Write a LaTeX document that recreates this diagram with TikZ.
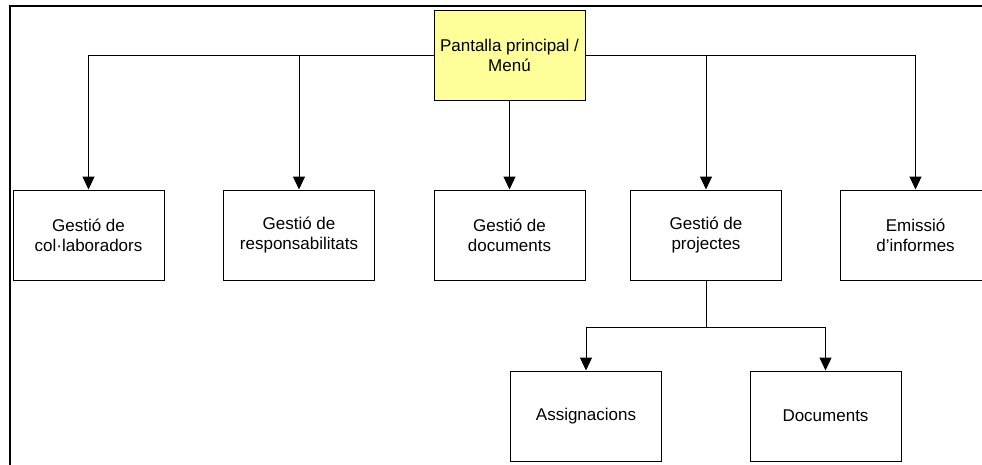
\documentclass[tikz,border=0pt]{standalone}
\usepackage{fontspec}
\setmainfont{Liberation Sans}
\usetikzlibrary{arrows.meta}
\definecolor{menuyellow}{HTML}{FFFF99}
\tikzset{
  box/.style={draw=black, line width=1pt, minimum width=151pt, minimum height=90pt,
    align=center, font=\fontsize{17pt}{20pt}\selectfont, inner sep=0pt, fill=white},
  menubox/.style={box, fill=menuyellow},
  link/.style={line width=1pt, -{Triangle[width=12pt,length=13pt]}},
  plain/.style={line width=1pt},
  frame/.style={line width=2pt, line cap=rect}
}
\begin{document}
\begin{tikzpicture}[x=1pt, y=-1pt]
  \useasboundingbox (0,0) rectangle (982,464);
  \clip (0,0) rectangle (982,464);
  % page frame
  \draw[frame] (10,470) -- (10,6) -- (990,6);
  % main menu
  \node[menubox] (menu) at (509.5,55) {Pantalla principal /\\Menú};
  % first level
  \node[box] (colab) at (88.5,235) {Gestió de\\col·laboradors};
  \node[box] (resp)  at (299,235)  {Gestió de\\responsabilitats};
  \node[box] (docs)  at (509.5,235) {Gestió de\\documents};
  \node[box] (proj)  at (706,235)  {Gestió de\\projectes};
  \node[box] (inf)   at (915.5,235) {Emissió\\d’informes};
  % second level
  \node[box] (assig) at (586,416)   {Assignacions};
  \node[box] (pdocs) at (825.5,416) {Documents};
  % connectors
  \draw[link] (menu.west) -| (colab.north);
  \draw[link] (menu.west) -| (resp.north);
  \draw[link] (menu.south) -- (docs.north);
  \draw[link] (menu.east) -| (proj.north);
  \draw[link] (menu.east) -| (inf.north);
  \coordinate (split) at (706,327);
  \draw[plain] (proj.south) -- (split);
  \draw[link] (split) -| (assig.north);
  \draw[link] (split) -| (pdocs.north);
\end{tikzpicture}
\end{document}
